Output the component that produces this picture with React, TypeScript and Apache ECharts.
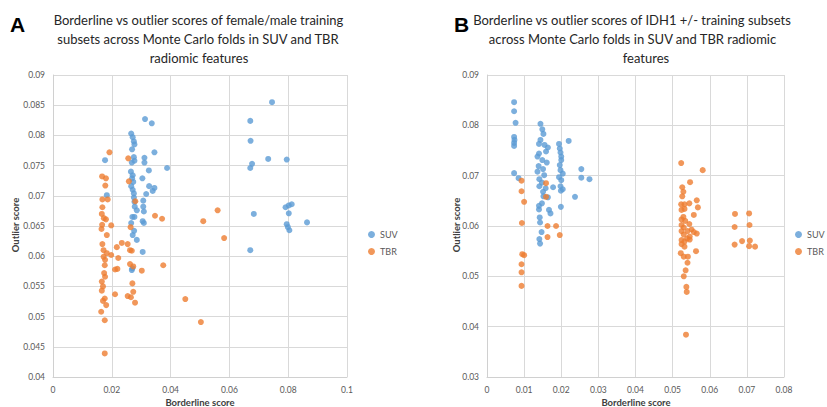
import React, { useEffect, useRef } from "react";
import * as echarts from "echarts";

// Panel A: female/male training subsets
const suvA: number[][] = [
  [0.0313, 0.0827], [0.0336, 0.0820], [0.0266, 0.0803], [0.0271, 0.0797], [0.0275, 0.0790],
  [0.0277, 0.0785], [0.0269, 0.0777], [0.0345, 0.0772], [0.0177, 0.0759], [0.0275, 0.0764],
  [0.0277, 0.0758], [0.0311, 0.0763], [0.0311, 0.0755], [0.0268, 0.0755], [0.0388, 0.0746],
  [0.0326, 0.0742], [0.0265, 0.0740], [0.0271, 0.0734], [0.0304, 0.0729], [0.0269, 0.0729],
  [0.0273, 0.0723], [0.0327, 0.0716], [0.0345, 0.0713], [0.0339, 0.0708], [0.0266, 0.0716],
  [0.0271, 0.0710], [0.0275, 0.0704], [0.0317, 0.0703], [0.0183, 0.0701], [0.0275, 0.0697],
  [0.0307, 0.0692], [0.0277, 0.0690], [0.0278, 0.0682], [0.0307, 0.0682], [0.0285, 0.0676],
  [0.0309, 0.0674], [0.0270, 0.0665], [0.0277, 0.0665], [0.0305, 0.0658], [0.0309, 0.0655],
  [0.0266, 0.0655], [0.0276, 0.0642], [0.0271, 0.0635], [0.0285, 0.0627], [0.0305, 0.0607],
  [0.0268, 0.0577], [0.0270, 0.0580],
  [0.0745, 0.0855], [0.0671, 0.0824], [0.0672, 0.0791], [0.0732, 0.0761], [0.0795, 0.0760],
  [0.0677, 0.0753], [0.0671, 0.0746], [0.0683, 0.0670], [0.0791, 0.0681], [0.0802, 0.0684],
  [0.0812, 0.0686], [0.0802, 0.0671], [0.0864, 0.0656], [0.0795, 0.0653], [0.0799, 0.0648],
  [0.0804, 0.0643], [0.0671, 0.0610],
];

const tbrA: number[][] = [
  [0.0192, 0.0772], [0.0256, 0.0762], [0.0167, 0.0732], [0.0180, 0.0729], [0.0178, 0.0717],
  [0.0258, 0.0724], [0.0280, 0.0691], [0.0168, 0.0694], [0.0186, 0.0694], [0.0168, 0.0681],
  [0.0166, 0.0670], [0.0173, 0.0663], [0.0180, 0.0661], [0.0167, 0.0652], [0.0198, 0.0651],
  [0.0165, 0.0645], [0.0347, 0.0667], [0.0371, 0.0662], [0.0264, 0.0648], [0.0183, 0.0635],
  [0.0168, 0.0620], [0.0217, 0.0615], [0.0234, 0.0622], [0.0254, 0.0620], [0.0268, 0.0609],
  [0.0262, 0.0610], [0.0172, 0.0610], [0.0183, 0.0605], [0.0198, 0.0602], [0.0172, 0.0599],
  [0.0177, 0.0594], [0.0176, 0.0585], [0.0222, 0.0597], [0.0211, 0.0578], [0.0219, 0.0579],
  [0.0262, 0.0587], [0.0273, 0.0583], [0.0302, 0.0576], [0.0375, 0.0585], [0.0174, 0.0572],
  [0.0177, 0.0566], [0.0166, 0.0558], [0.0170, 0.0550], [0.0166, 0.0543], [0.0270, 0.0555],
  [0.0273, 0.0541], [0.0211, 0.0537], [0.0254, 0.0534], [0.0265, 0.0532], [0.0176, 0.0530],
  [0.0170, 0.0526], [0.0181, 0.0519], [0.0279, 0.0523], [0.0164, 0.0508], [0.0176, 0.0494],
  [0.0450, 0.0529], [0.0176, 0.0439], [0.0560, 0.0676], [0.0511, 0.0658], [0.0582, 0.0630],
  [0.0503, 0.0491],
];

// Panel B: IDH1 +/- training subsets
const suvB: number[][] = [
  [0.0073, 0.0846], [0.0073, 0.0828], [0.0077, 0.0805], [0.0073, 0.0777], [0.0074, 0.0771],
  [0.0073, 0.0765], [0.0073, 0.0759], [0.0073, 0.0705], [0.0085, 0.0695],
  [0.0144, 0.0803], [0.0149, 0.0792], [0.0152, 0.0783], [0.0144, 0.0771], [0.0140, 0.0763],
  [0.0155, 0.0761], [0.0164, 0.0756], [0.0159, 0.0748], [0.0140, 0.0744], [0.0136, 0.0738],
  [0.0149, 0.0731], [0.0161, 0.0726], [0.0139, 0.0719], [0.0151, 0.0713], [0.0136, 0.0708],
  [0.0154, 0.0701], [0.0141, 0.0693], [0.0148, 0.0686], [0.0141, 0.0679], [0.0158, 0.0675],
  [0.0178, 0.0677], [0.0151, 0.0668], [0.0164, 0.0657], [0.0152, 0.0659], [0.0148, 0.0645],
  [0.0140, 0.0640], [0.0140, 0.0633], [0.0167, 0.0632], [0.0171, 0.0625], [0.0142, 0.0617],
  [0.0143, 0.0607], [0.0147, 0.0588], [0.0141, 0.0574], [0.0143, 0.0565],
  [0.0194, 0.0763], [0.0196, 0.0754], [0.0198, 0.0746], [0.0200, 0.0738], [0.0200, 0.0731],
  [0.0196, 0.0721], [0.0198, 0.0711], [0.0204, 0.0704], [0.0194, 0.0697], [0.0200, 0.0691],
  [0.0198, 0.0679], [0.0204, 0.0673], [0.0199, 0.0670], [0.0199, 0.0638], [0.0220, 0.0769],
  [0.0254, 0.0713], [0.0254, 0.0696], [0.0276, 0.0693], [0.0237, 0.0658],
];

const tbrB: number[][] = [
  [0.0093, 0.0690], [0.0093, 0.0669], [0.0100, 0.0648], [0.0094, 0.0606], [0.0095, 0.0544],
  [0.0100, 0.0542], [0.0093, 0.0524], [0.0093, 0.0508], [0.0093, 0.0481], [0.0159, 0.0685],
  [0.0159, 0.0658], [0.0163, 0.0600], [0.0186, 0.0600], [0.0163, 0.0578], [0.0196, 0.0582],
  [0.0523, 0.0725], [0.0581, 0.0711], [0.0547, 0.0687], [0.0526, 0.0677], [0.0529, 0.0668],
  [0.0526, 0.0659], [0.0565, 0.0651], [0.0545, 0.0645], [0.0523, 0.0643], [0.0532, 0.0643],
  [0.0568, 0.0637], [0.0532, 0.0634], [0.0524, 0.0632], [0.0557, 0.0622], [0.0529, 0.0618],
  [0.0524, 0.0613], [0.0534, 0.0610], [0.0545, 0.0604], [0.0524, 0.0602], [0.0530, 0.0597],
  [0.0551, 0.0593], [0.0540, 0.0590], [0.0524, 0.0590], [0.0565, 0.0585], [0.0557, 0.0588],
  [0.0530, 0.0583], [0.0546, 0.0579], [0.0539, 0.0575], [0.0524, 0.0572], [0.0532, 0.0569],
  [0.0546, 0.0573], [0.0524, 0.0564], [0.0532, 0.0559], [0.0563, 0.0550], [0.0522, 0.0546],
  [0.0530, 0.0539], [0.0541, 0.0539], [0.0540, 0.0527], [0.0535, 0.0512], [0.0530, 0.0500],
  [0.0537, 0.0479], [0.0538, 0.0469], [0.0536, 0.0384],
  [0.0668, 0.0624], [0.0706, 0.0625], [0.0667, 0.0598], [0.0707, 0.0602], [0.0687, 0.0570],
  [0.0667, 0.0563], [0.0708, 0.0571], [0.0706, 0.0560], [0.0722, 0.0559],
];

const titleALines = [
  "Borderline vs outlier scores of female/male training",
  "subsets across Monte Carlo folds in SUV and TBR",
  "radiomic features",
];
const titleBLines = [
  "Borderline vs outlier scores of IDH1 +/- training subsets",
  "across Monte Carlo folds in SUV and TBR radiomic",
  "features",
];
const seriesNames = ["SUV", "TBR"];
const xAxisName = "Borderline score";
const yAxisName = "Outlier score";

const BLUE = "#5B9BD5";
const ORANGE = "#ED7D31";
const FONT = "Lato, 'Open Sans', sans-serif";

const fmt = (v: number) => String(parseFloat(v.toFixed(3)));

function makeAxis(grid: number, min: number, max: number, interval: number) {
  return {
    type: "value",
    gridIndex: grid,
    min,
    max,
    interval,
    axisLine: { show: true, lineStyle: { color: "#d0d0d0", width: 1 } },
    axisTick: { show: false },
    splitLine: { show: true, lineStyle: { color: "#d9d9d9", width: 1 } },
    axisLabel: { color: "#595959", fontSize: 8.5, fontFamily: FONT, margin: 8, formatter: fmt },
  };
}

function titleTexts(lines: string[], cx: number[], y0: number) {
  return lines.map((t, i) => ({
    type: "text",
    x: cx[i],
    y: y0 + i * 19,
    style: {
      text: t,
      fill: "#262626",
      font: `13px ${FONT}`,
      textAlign: "center",
      textVerticalAlign: "middle",
    },
  }));
}

function legendAt(left: number) {
  return {
    orient: "vertical",
    left,
    top: 229,
    padding: 0,
    itemWidth: 7,
    itemHeight: 7,
    itemGap: 6,
    icon: "circle",
    data: seriesNames,
    textStyle: { color: "#595959", fontSize: 9, fontFamily: FONT, lineHeight: 11 },
  };
}

function axisNameText(x: number, y: number, text: string, vertical: boolean) {
  return {
    type: "text",
    x,
    y,
    rotation: vertical ? Math.PI / 2 : 0,
    style: { text, fill: "#404040", font: `bold 9.5px ${FONT}`, textAlign: "center", textVerticalAlign: "middle" },
  };
}

export default function App() {
  const ref = useRef<HTMLDivElement>(null);
  useEffect(() => {
    if (!ref.current) return;
    const chart = echarts.init(ref.current, null, { renderer: "svg" });
    const option: any = {
      animation: false,
      backgroundColor: "#ffffff",
      grid: [
        { left: 53, top: 75, width: 294, height: 302 },
        { left: 487, top: 75, width: 297, height: 302 },
      ],
      xAxis: [makeAxis(0, 0, 0.1, 0.02), makeAxis(1, 0, 0.08, 0.01)],
      yAxis: [makeAxis(0, 0.04, 0.09, 0.005), makeAxis(1, 0.03, 0.09, 0.01)],
      legend: [legendAt(368), legendAt(795)],
      series: [
        { name: seriesNames[0], type: "scatter", xAxisIndex: 0, yAxisIndex: 0, data: suvA, symbolSize: 6, itemStyle: { color: BLUE } },
        { name: seriesNames[1], type: "scatter", xAxisIndex: 0, yAxisIndex: 0, data: tbrA, symbolSize: 6, itemStyle: { color: ORANGE } },
        { name: seriesNames[0], type: "scatter", xAxisIndex: 1, yAxisIndex: 1, data: suvB, symbolSize: 6, itemStyle: { color: BLUE } },
        { name: seriesNames[1], type: "scatter", xAxisIndex: 1, yAxisIndex: 1, data: tbrB, symbolSize: 6, itemStyle: { color: ORANGE } },
      ],
      graphic: [
        {
          type: "text",
          x: 10,
          y: 14,
          style: { text: "A", fill: "#000", font: "bold 21px 'Liberation Sans', Arial, sans-serif" },
        },
        {
          type: "text",
          x: 454,
          y: 14,
          style: { text: "B", fill: "#000", font: "bold 21px 'Liberation Sans', Arial, sans-serif" },
        },
        ...titleTexts(titleALines, [198.5, 198, 199], 20),
        ...titleTexts(titleBLines, [632, 632.5, 646], 20),
        axisNameText(15, 225, yAxisName, true),
        axisNameText(456, 225, yAxisName, true),
        axisNameText(200, 402, xAxisName, false),
        axisNameText(636, 402, xAxisName, false),
      ],
    };
    chart.setOption(option);
    return () => chart.dispose();
  }, []);
  return (
    <div
      ref={ref}
      style={{ position: "fixed", left: 0, top: 0, width: 827, height: 407, background: "#fff" }}
    />
  );
}
